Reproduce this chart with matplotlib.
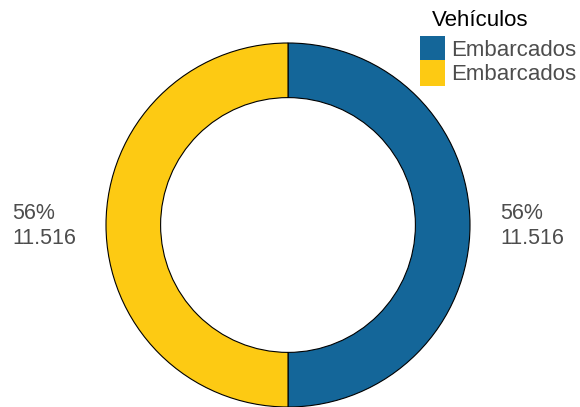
import matplotlib.pyplot as plt
from matplotlib.patches import Patch

categories = ["Embarcados", "Embarcados"]
values = [11516, 11516]
pct_labels = ["56%", "56%"]
colors = ["#146699", "#FDCA13"]

W, H = 580, 407
fig = plt.figure(figsize=(W / 100, H / 100), dpi=100)

# donut centre (288, 225) px, outer radius 182 px
cx, cy, r = 288, 225, 182
ax = fig.add_axes([(cx - r) / W, (H - cy - r) / H, 2 * r / W, 2 * r / H])
ax.pie(values, colors=colors, startangle=90, counterclock=False, radius=1,
       wedgeprops=dict(width=0.30, edgecolor="black", linewidth=0.8))
ax.set_xlim(-1, 1)
ax.set_ylim(-1, 1)
ax.set_aspect("equal")
ax.axis("off")

# labels: right for first slice, left for second
pos = [(500, 226), (12, 226)]
for (x, y), p, v in zip(pos, pct_labels, values):
    txt = "{}\n{}".format(p, "{:,}".format(v).replace(",", "."))
    fig.text(x / W, 1 - y / H, txt, ha="left", va="center", fontsize=15.5,
             color="#4d4d4d", linespacing=1.2, family="Liberation Sans")

fig.text(432 / W, 1 - 20 / H, "Vehículos", ha="left", va="center",
         fontsize=16, color="black", family="Liberation Sans")

handles = [Patch(facecolor=c, edgecolor="none") for c in colors]
leg = fig.legend(handles, categories, loc="upper left",
                 bbox_to_anchor=(420 / W, 1 - 36 / H), frameon=False,
                 prop=dict(family="Liberation Sans", size=16),
                 handlelength=1.13, handleheight=1.4, handletextpad=0.25,
                 labelspacing=-0.08, borderaxespad=0, borderpad=0)
for t in leg.get_texts():
    t.set_color("#4d4d4d")

fig.savefig("out.png", dpi=100)
